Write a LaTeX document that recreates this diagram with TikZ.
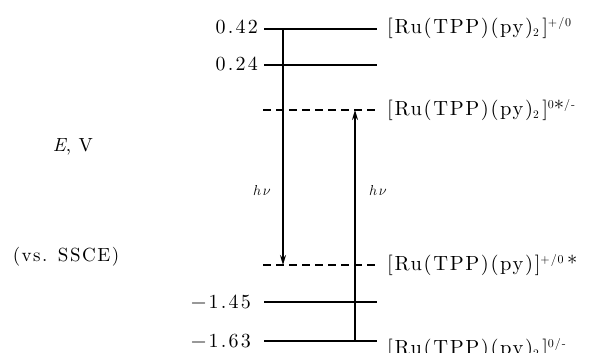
\documentclass[tikz,border=0pt]{standalone}
\usepackage{fontspec}
\newfontfamily\lsnum{lmroman10-regular.otf}[LetterSpace=11]
\newfontfamily\lsside{lmroman10-regular.otf}[LetterSpace=8,ItalicFont=lmroman10-italic.otf]
\newfontfamily\lslab{lmroman10-regular.otf}[LetterSpace=8]
\newcommand\supx[1]{\raisebox{7pt}{\fontsize{12}{12}\selectfont #1}}
\newcommand\subx[1]{\raisebox{-3pt}{\fontsize{11.5}{12}\selectfont #1}}
\usetikzlibrary{arrows.meta}
\begin{document}
\begin{tikzpicture}[x=1pt,y=-1pt,
  lvl/.style={line width=1.6pt},
  dlvl/.style={line width=1.6pt,dash pattern=on 8pt off 5pt},
  vert/.style={line width=1.4pt,-{Stealth[length=10pt,width=6pt]}},
  num/.style={anchor=east,inner sep=0pt,font=\lsnum\fontsize{20}{22}\selectfont},
  lab/.style={anchor=west,inner sep=0pt,font=\lslab\fontsize{20.5}{23}\selectfont},
  side/.style={inner sep=0pt,font=\lsside\fontsize{19}{21}\selectfont},
  hv/.style={inner sep=0pt,font=\fontsize{15}{17}\selectfont}]
\useasboundingbox (0,0) rectangle (600,353);
% level end points
\coordinate (a1) at (264,29);  \coordinate (a2) at (377,29);
\coordinate (b1) at (264,65);  \coordinate (b2) at (377,65);
\coordinate (c1) at (263,110); \coordinate (c2) at (377,110);
\coordinate (d1) at (263,265); \coordinate (d2) at (377,265);
\coordinate (e1) at (264,302); \coordinate (e2) at (377,302);
\coordinate (f1) at (264,341); \coordinate (f2) at (377,341);
\draw[lvl] (a1) -- (a2);
\draw[lvl] (b1) -- (b2);
\draw[dlvl] (c1) -- (c2);
\draw[dlvl] (d1) -- (d2);
\draw[lvl] (e1) -- (e2);
\draw[lvl] (f1) -- (f2);
% transitions
\coordinate (L1) at (283,29);  \coordinate (L2) at (283,265);
\coordinate (R1) at (355,341); \coordinate (R2) at (355,110);
\draw[vert] (L1) -- (L2);
\draw[vert] (R1) -- (R2);
\node[hv] (hv1) at (262,190) {$h\mkern2mu\nu$};
\node[hv] (hv2) at (378,190) {$h\mkern2mu\nu$};
% values
\node[num] (n1) at (258,27) {0.42};
\node[num] (n2) at (258,64) {0.24};
\node[num] (n3) at (251,302) {−1.45};
\node[num] (n4) at (251,341) {−1.63};
% species
\node[lab] (s1) at (387,28) {[Ru(TPP)(py)\subx{2}\,]\supx{+/0}};
\node[lab] (s2) at (387,110) {[Ru(TPP)(py)\subx{2}\,]\supx{0}*\supx{/-}};
\node[lab] (s3) at (387,265) {[Ru(TPP)(py)]\supx{+/0}\,*};
\node[lab] (s4) at (387,349) {[Ru(TPP)(py)\subx{2}\,]\supx{0/-}};
% axis text
\node[side] (ev) at (73,147) {\textit{E},\hspace{0.4em}V};
\node[side] (vs) at (66,257) {(vs. SSCE)};
\end{tikzpicture}
\end{document}
